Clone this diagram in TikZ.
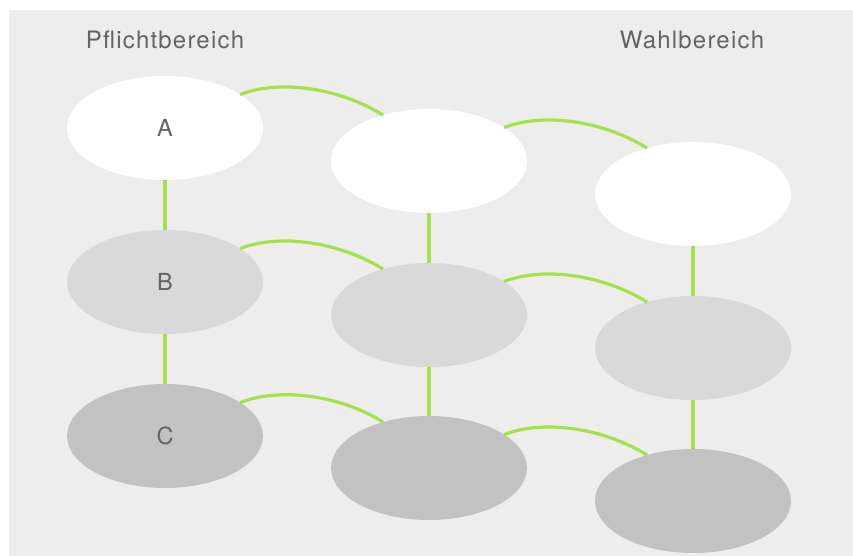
\documentclass[tikz,border=0pt]{standalone}
\usepackage{fontspec}
\setmainfont{TeX Gyre Heros}[LetterSpace=5]
\usetikzlibrary{shapes.geometric}
\definecolor{panel}{HTML}{EDEDED}
\definecolor{midgray}{HTML}{D9D9D9}
\definecolor{darkgray}{HTML}{C2C2C2}
\definecolor{link}{HTML}{A6E04B}
\definecolor{label}{HTML}{636363}
\tikzset{
  blob/.style={ellipse, minimum width=196pt, minimum height=104pt, inner sep=0pt,
    outer sep=0pt, draw=none, text=label, font=\fontsize{23.5}{26}\selectfont},
  lightblob/.style={blob, fill=white},
  midblob/.style={blob, fill=midgray},
  darkblob/.style={blob, fill=darkgray},
  heading/.style={text=label, font=\fontsize{24}{27}\selectfont, inner sep=0pt},
  link/.style={draw=link, line width=3.2pt},
}
\newcommand{\archop}[2]{\draw[link] (#1.24) .. controls +(38,-15) and +(-45,-28) .. (#2.135);}
\begin{document}
\begin{tikzpicture}[x=1pt, y=-1pt]
  \useasboundingbox[fill=white] (0,0) rectangle (853,556);
  \fill[panel] (9,10) rectangle (853,556);

  \node[heading] (hp) at (165,40) {Pflichtbereich};
  \node[heading] (hw) at (692,40) {Wahlbereich};

  % compulsory column
  \node[lightblob] (a1) at (165,128) {A};
  \node[midblob]   (b1) at (165,282) {B};
  \node[darkblob]  (c1) at (165,436) {C};
  % middle column
  \node[lightblob] (a2) at (429,161) {};
  \node[midblob]   (b2) at (429,315) {};
  \node[darkblob]  (c2) at (429,468) {};
  % elective column
  \node[lightblob] (a3) at (693,194) {};
  \node[midblob]   (b3) at (693,348) {};
  \node[darkblob]  (c3) at (693,501) {};

  % vertical links
  \foreach \i in {1,2,3} {
    \draw[link] (a\i.south) -- (b\i.north);
    \draw[link] (b\i.south) -- (c\i.north);
  }
  % arcs between neighbouring columns
  \archop{a1}{a2}
  \archop{a2}{a3}
  \archop{b1}{b2}
  \archop{b2}{b3}
  \archop{c1}{c2}
  \archop{c2}{c3}
\end{tikzpicture}
\end{document}
